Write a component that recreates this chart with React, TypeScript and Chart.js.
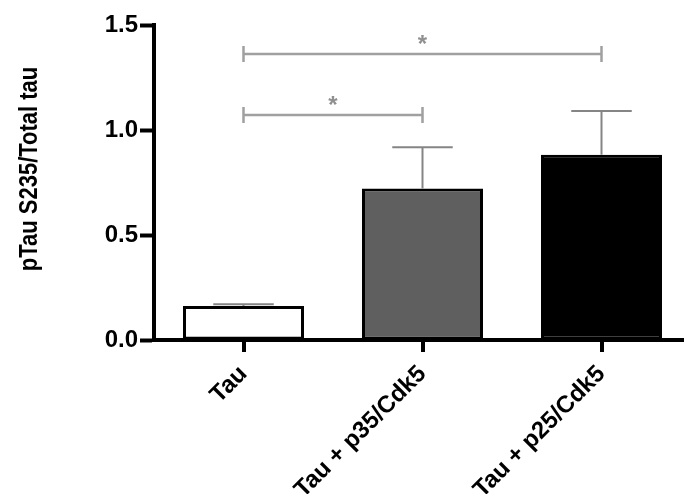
import React, { useEffect, useRef } from "react";
import { Chart, registerables } from "chart.js";

Chart.register(...registerables);

const categories = ["Tau", "Tau + p35/Cdk5", "Tau + p25/Cdk5"];
const means = [0.162, 0.722, 0.882];
const sems = [0.008, 0.196, 0.208];
const barColors = ["#ffffff", "#5f5f5f", "#000000"];
const yTickValues = [0, 0.5, 1.0, 1.5];
const yTitle = "pTau S235/Total tau";

const bracketFrom = [0, 0];
const bracketTo = [2, 1];
const bracketLevel = [1.362, 1.071];
const bracketLabel = ["*", "*"];

const FONT = "'Liberation Sans', Arial, sans-serif";

const annotations = {
  id: "annotations",
  afterDatasetsDraw(chart: any) {
    const { ctx, scales } = chart;
    const x = scales.x;
    const y = scales.y;
    const meta = chart.getDatasetMeta(0);
    ctx.save();
    // category tick marks on the x axis
    ctx.strokeStyle = "#000";
    ctx.lineWidth = 4;
    categories.forEach((_, i) => {
      const px = Math.round(x.getPixelForValue(i));
      ctx.beginPath();
      ctx.moveTo(px, y.bottom);
      ctx.lineTo(px, y.bottom + 12);
      ctx.stroke();
    });
    // error bars
    ctx.strokeStyle = "#858585";
    ctx.lineWidth = 2;
    meta.data.forEach((bar: any, i: number) => {
      const xc = bar.x;
      const half = bar.width / 4;
      const y0 = y.getPixelForValue(means[i]);
      const y1 = y.getPixelForValue(means[i] + sems[i]);
      ctx.beginPath();
      ctx.moveTo(xc, y0);
      ctx.lineTo(xc, y1);
      ctx.moveTo(xc - half, y1);
      ctx.lineTo(xc + half, y1);
      ctx.stroke();
    });
    // significance brackets
    ctx.strokeStyle = "#a0a0a0";
    ctx.lineWidth = 2.5;
    ctx.fillStyle = "#909090";
    ctx.font = `bold 24px ${FONT}`;
    ctx.textAlign = "center";
    ctx.textBaseline = "middle";
    bracketFrom.forEach((f, i) => {
      const x1 = x.getPixelForValue(f);
      const x2 = x.getPixelForValue(bracketTo[i]);
      const yy = y.getPixelForValue(bracketLevel[i]);
      ctx.beginPath();
      ctx.moveTo(x1, yy);
      ctx.lineTo(x2, yy);
      ctx.moveTo(x1, yy - 8);
      ctx.lineTo(x1, yy + 8);
      ctx.moveTo(x2, yy - 8);
      ctx.lineTo(x2, yy + 8);
      ctx.stroke();
      ctx.fillText(bracketLabel[i], (x1 + x2) / 2, yy - 9);
    });
    // y-axis title
    ctx.fillStyle = "#000";
    ctx.font = `bold 22px ${FONT}`;
    ctx.translate(30, 169);
    ctx.scale(1.2, 1);
    ctx.rotate(-Math.PI / 2);
    ctx.textAlign = "center";
    ctx.textBaseline = "middle";
    ctx.fillText(yTitle, 0, 0);
    ctx.restore();
  },
};

export default function App() {
  const ref = useRef<HTMLCanvasElement | null>(null);
  useEffect(() => {
    if (!ref.current) return;
    const chart = new Chart(ref.current, {
      type: "bar",
      data: {
        labels: categories,
        datasets: [
          {
            data: means,
            backgroundColor: barColors,
            borderColor: "#000000",
            borderWidth: 3,
            borderSkipped: false,
            categoryPercentage: 1,
            barPercentage: 0.676,
          },
        ],
      },
      options: {
        responsive: false,
        animation: false,
        devicePixelRatio: 1,
        layout: { padding: { top: 25, right: 9, bottom: 0, left: 0 } },
        plugins: { legend: { display: false }, tooltip: { enabled: false } },
        scales: {
          x: {
            grid: {
              drawOnChartArea: false,
              drawTicks: true,
              tickLength: 11,
              tickColor: "rgba(0,0,0,0)",
            },
            border: { display: true, width: 4, color: "#000" },
            ticks: {
              autoSkip: false,
              maxRotation: 45,
              minRotation: 45,
              color: "#000",
              padding: 9,
              font: { family: FONT, size: 24, weight: "bold" },
            },
            afterFit(scale: any) {
              scale.height = 154;
            },
          },
          y: {
            min: 0,
            max: 1.5,
            afterBuildTicks(scale: any) {
              scale.ticks = yTickValues.map((v) => ({ value: v }));
            },
            grid: {
              drawOnChartArea: false,
              drawTicks: true,
              tickLength: 14,
              tickWidth: 4,
              tickColor: "#000",
            },
            border: { display: true, width: 4, color: "#000" },
            ticks: {
              color: "#000",
              padding: 2,
              font: { family: FONT, size: 24, weight: "bold" },
              callback: (v: any) => Number(v).toFixed(1),
            },
            title: { display: false },
            afterFit(scale: any) {
              scale.width = 154;
            },
          },
        },
      },
      plugins: [annotations],
    });
    return () => chart.destroy();
  }, []);
  return (
    <div
      style={{
        position: "fixed",
        left: 0,
        top: 0,
        width: 684,
        height: 494,
        overflow: "hidden",
        background: "#fff",
      }}
    >
      <canvas ref={ref} width={700} height={494} style={{ display: "block" }} />
    </div>
  );
}
